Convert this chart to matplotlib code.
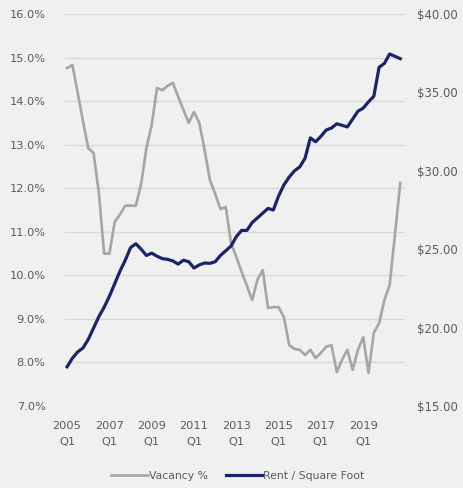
import matplotlib
matplotlib.use("Agg")
import matplotlib.pyplot as plt
import numpy as np

years = list(range(2005, 2021))
quarters = [f"{y} Q{q}" for y in years for q in range(1, 5)]

vacancy = [14.76, 14.83, 14.19, 13.54, 12.92, 12.81, 11.9, 10.5,
           10.5, 11.22, 11.4, 11.6, 11.6, 11.6, 12.1, 12.92,
           13.45, 14.3, 14.25, 14.35, 14.42, 14.1, 13.8, 13.5,
           13.75, 13.5, 12.88, 12.19, 11.87, 11.52, 11.57, 10.74,
           10.42, 10.08, 9.76, 9.43, 9.9, 10.12, 9.25, 9.27,
           9.27, 9.04, 8.4, 8.31, 8.29, 8.17, 8.29, 8.1,
           8.22, 8.36, 8.4, 7.78, 8.06, 8.29, 7.83, 8.29,
           8.58, 7.76, 8.68, 8.9, 9.43, 9.78, 10.93, 12.12]

rent = [17.5, 18.05, 18.45, 18.7, 19.25, 19.97, 20.7, 21.3,
        22.0, 22.8, 23.6, 24.3, 25.1, 25.35, 25.0, 24.6,
        24.75, 24.55, 24.4, 24.35, 24.25, 24.05, 24.3, 24.2,
        23.8, 24.0, 24.12, 24.1, 24.2, 24.6, 24.9, 25.2,
        25.8, 26.2, 26.2, 26.7, 27.0, 27.3, 27.6, 27.5,
        28.4, 29.1, 29.6, 30.0, 30.25, 30.8, 32.1, 31.85,
        32.2, 32.6, 32.73, 33.0, 32.9, 32.8, 33.3, 33.8,
        34.0, 34.4, 34.75, 36.6, 36.85, 37.45, 37.3, 37.15]

left_ticks = [7, 8, 9, 10, 11, 12, 13, 14, 15, 16]
right_ticks = [15, 20, 25, 30, 35, 40]
xtick_years = [2005, 2007, 2009, 2011, 2013, 2015, 2017, 2019]

bg = "#f0f0f0"
txt = "#5a5a5a"
gray = "#a5a5a5"
navy = "#1b2466"

fig = plt.figure(figsize=(4.64, 4.88), dpi=100, facecolor=bg)
ax = fig.add_axes([65/464, 1-406/488, 340/464, 392/488], facecolor=bg)
ax2 = ax.twinx()

x = np.arange(len(quarters))
l1, = ax.plot(x, vacancy, color=gray, lw=1.9, label="Vacancy %", solid_joinstyle="round")
l2, = ax2.plot(x, rent, color=navy, lw=2.3, label="Rent / Square Foot", solid_joinstyle="round")

ax.set_ylim(7, 16)
ax2.set_ylim(15, 40)
ax.set_xlim(-0.4, 63.9)

ax.set_yticks(left_ticks)
ax.set_yticklabels([f"{v:.1f}%" for v in left_ticks])
ax2.set_yticks(right_ticks)
ax2.set_yticklabels([f"${v:.2f}" for v in right_ticks])

xt = [quarters.index(f"{y} Q1") for y in xtick_years]
ax.set_xticks(xt)
ax.set_xticklabels([f"{y}\nQ1" for y in xtick_years])

ax.grid(axis="y", color="#d9d9d9", lw=1.0)
ax.set_axisbelow(True)
for a in (ax, ax2):
    for s in a.spines.values():
        s.set_visible(False)
    a.tick_params(length=0, colors=txt)

ax.tick_params(axis="y", labelsize=8.2, pad=14)
ax.tick_params(axis="x", labelsize=8.2, pad=11)
ax2.tick_params(axis="y", labelsize=8.4, pad=9)
for lab in ax.get_xticklabels():
    lab.set_linespacing(1.75)

fig.legend(handles=[l1, l2], loc="center", bbox_to_anchor=(238/464, 1-476/488),
           ncol=2, frameon=False, fontsize=7.8, handlelength=3.4,
           columnspacing=1.6, handletextpad=0.1, labelcolor=txt)

fig.savefig("out.png", dpi=100, facecolor=bg)
